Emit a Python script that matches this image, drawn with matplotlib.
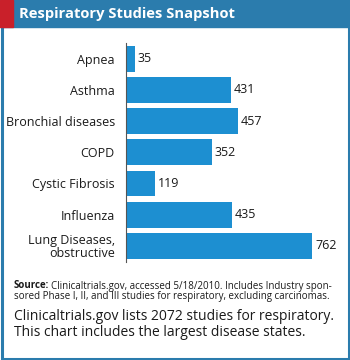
import matplotlib
matplotlib.use("Agg")
import matplotlib.pyplot as plt
from matplotlib.patches import Rectangle

# data
categories = ["Apnea", "Asthma", "Bronchial diseases", "COPD",
              "Cystic Fibrosis", "Influenza", "Lung Diseases,\nobstructive"]
studies = [35, 431, 457, 352, 119, 435, 762]

W, H = 350, 360
frame = "#2b7cad"
barcol = "#1d8fd1"
plt.rcParams['font.family'] = ['Open Sans', 'DejaVu Sans']

fig = plt.figure(figsize=(W / 100, H / 100), dpi=100)
fig.patch.set_facecolor("white")

# frame first, then header band and red strip on top
fig.patches.append(Rectangle((1.5 / W, 1.5 / H), 1 - 3 / W, 1 - 3 / H, transform=fig.transFigure,
                             fill=False, ec=frame, lw=2.2, zorder=0))
fig.patches.append(Rectangle((0, 1 - 27 / H), 1, 27 / H, transform=fig.transFigure,
                             color=frame, zorder=1))
fig.patches.append(Rectangle((0, 1 - 27 / H), 13 / W, 27 / H, transform=fig.transFigure,
                             color="#c9202a", zorder=2))
fig.text(19 / W, 1 - 14 / H, "Respiratory Studies Snapshot", color="white",
         fontsize=10.6, fontweight="bold", va="center", ha="left")

# bar chart
ax = fig.add_axes([126 / W, 1 - 261.5 / H, (345 - 126) / W, 218.5 / H])
ypos = list(range(len(categories)))
ax.barh(ypos, studies, height=0.83, color=barcol)
ax.set_ylim(len(categories) - 0.5, -0.5)
ax.set_xlim(0, 897)
ax.set_yticks(ypos)
ax.set_yticklabels(categories, fontsize=9, color="#1a1a1a", linespacing=1.0)
ax.tick_params(axis="y", length=0, pad=8)
ax.set_xticks([])
for s in ["top", "right", "bottom"]:
    ax.spines[s].set_visible(False)
ax.spines["left"].set_color("#555555")
ax.spines["left"].set_linewidth(0.8)
for y, v in zip(ypos, studies):
    ax.text(v + 12, y, str(v), va="center", ha="left", fontsize=9, color="#1a1a1a")

# source note
fig.canvas.draw()
src = fig.text(14 / W, 1 - 286 / H, "Source:", fontsize=7, fontweight="bold",
               va="center", ha="left", color="#1a1a1a")
bb = src.get_window_extent(fig.canvas.get_renderer())
fig.text((bb.x1 + 2) / W, 1 - 286 / H, "Clinicaltrials.gov, accessed 5/18/2010. Includes Industry spon-",
         fontsize=7, va="center", ha="left", color="#1a1a1a")
fig.text(14 / W, 1 - 297 / H, "sored Phase I, II, and III studies for respiratory, excluding carcinomas.",
         fontsize=7, va="center", ha="left", color="#1a1a1a")

fig.text(14 / W, 1 - 316 / H, "Clinicaltrials.gov lists 2072 studies for respiratory.",
         fontsize=10, va="center", ha="left", color="#1a1a1a")
fig.text(14 / W, 1 - 332 / H, "This chart includes the largest disease states.",
         fontsize=10, va="center", ha="left", color="#1a1a1a")

fig.savefig("out.png", dpi=100)
